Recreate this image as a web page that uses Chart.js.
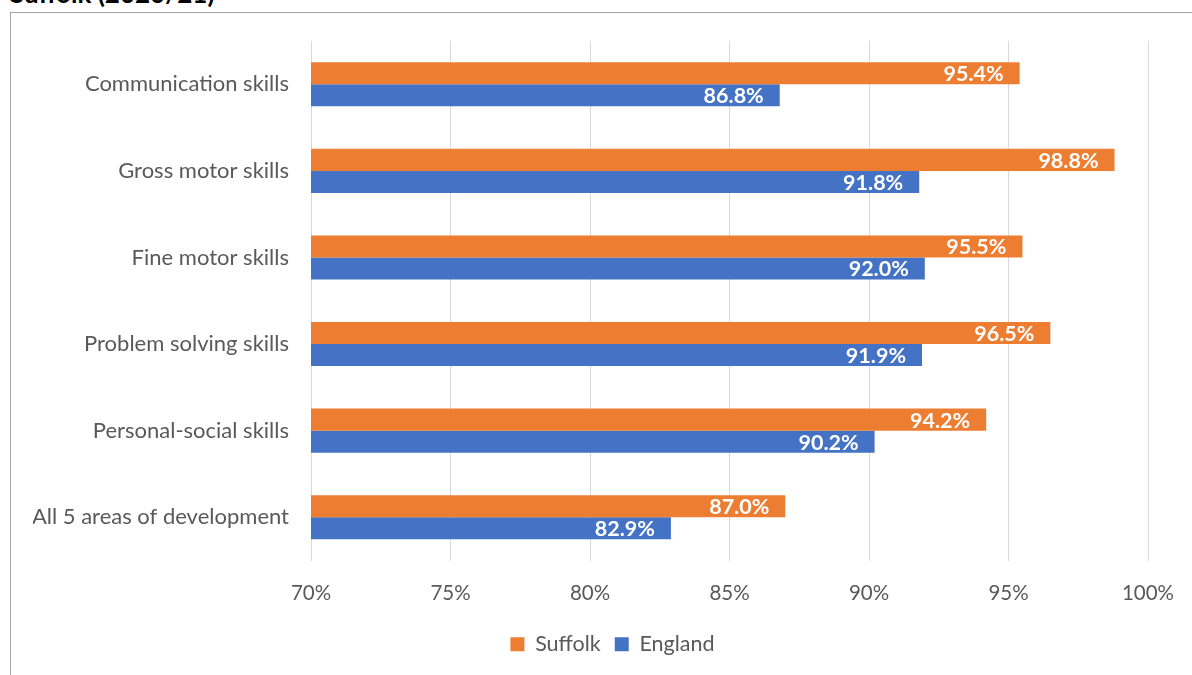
<!DOCTYPE html>
<html>
<head>
<meta charset="utf-8">
<script src="https://cdn.jsdelivr.net/npm/chart.js@4"></script>
<style>
  body { margin: 0; background: #fff; width: 1192px; height: 675px; overflow: hidden; position: relative; font-family: Lato, "Open Sans", sans-serif; }
  #title { position: absolute; left: 10px; top: -20px; font-weight: bold; font-size: 26px; line-height: 26px; color: #000; white-space: nowrap; }
  #box { position: absolute; left: 10px; top: 12px; width: 1200px; height: 700px; border: 1px solid #a6a6a6; }
  #wrap { position: absolute; left: 11px; top: 13px; width: 1181px; height: 662px; }
</style>
</head>
<body>
<div id="title">Suffolk (2020/21)</div>
<div id="box"></div>
<div id="wrap"><canvas id="skills"></canvas></div>
<script>
const categories = [
  'Communication skills',
  'Gross motor skills',
  'Fine motor skills',
  'Problem solving skills',
  'Personal-social skills',
  'All 5 areas of development'
];
const suffolk = [95.4, 98.8, 95.5, 96.5, 94.2, 87.0];
const england = [86.8, 91.8, 92.0, 91.9, 90.2, 82.9];
const tickLabels = ['70%', '75%', '80%', '85%', '90%', '95%', '100%'];

const fontFam = 'Lato, "Open Sans", sans-serif';

// labels drawn inside the bar end, like Excel "inside end"
const barLabels = {
  id: 'barLabels',
  afterDatasetsDraw(chart) {
    const ctx = chart.ctx;
    ctx.save();
    ctx.font = 'bold 21.5px ' + fontFam;
    ctx.fillStyle = '#ffffff';
    ctx.textAlign = 'right';
    ctx.textBaseline = 'middle';
    chart.data.datasets.forEach((ds, i) => {
      chart.getDatasetMeta(i).data.forEach((bar, j) => {
        ctx.fillText(ds.data[j].toFixed(1) + '%', bar.x - 16, bar.y + 1);
      });
    });
    ctx.restore();
  }
};

new Chart(document.getElementById('skills'), {
  type: 'bar',
  data: {
    labels: categories,
    datasets: [
      { label: 'Suffolk', data: suffolk, backgroundColor: '#ED7D31', barPercentage: 1, categoryPercentage: 0.51 },
      { label: 'England', data: england, backgroundColor: '#4472C4', barPercentage: 1, categoryPercentage: 0.51 }
    ]
  },
  options: {
    indexAxis: 'y',
    responsive: true,
    maintainAspectRatio: false,
    animation: false,
    layout: { padding: { top: 28, right: 0, left: 22, bottom: 10 } },
    scales: {
      x: {
        min: 70,
        max: 100,
        ticks: {
          stepSize: 5,
          color: '#595959',
          font: { size: 20.5, family: fontFam },
          padding: 21,
          maxRotation: 0,
          callback: (v, i) => tickLabels[i]
        },
        grid: { color: '#d9d9d9', drawTicks: false },
        border: { display: false },
        afterFit(scale) {
          scale.height = 59;
          scale.paddingLeft = 0;
          scale.paddingRight = 44;
        }
      },
      y: {
        ticks: {
          color: '#595959',
          font: { size: 22, family: fontFam },
          padding: 22
        },
        grid: { display: false, drawTicks: false },
        border: { display: false },
        afterFit(scale) {
          scale.width = 278;
          scale.paddingTop = 0;
          scale.paddingBottom = 0;
        }
      }
    },
    plugins: {
      legend: {
        position: 'bottom',
        labels: {
          color: '#595959',
          font: { size: 21.5, family: fontFam },
          boxWidth: 14,
          boxHeight: 14,
          padding: 14
        }
      },
      tooltip: { enabled: false }
    }
  },
  plugins: [barLabels]
});
</script>
</body>
</html>
